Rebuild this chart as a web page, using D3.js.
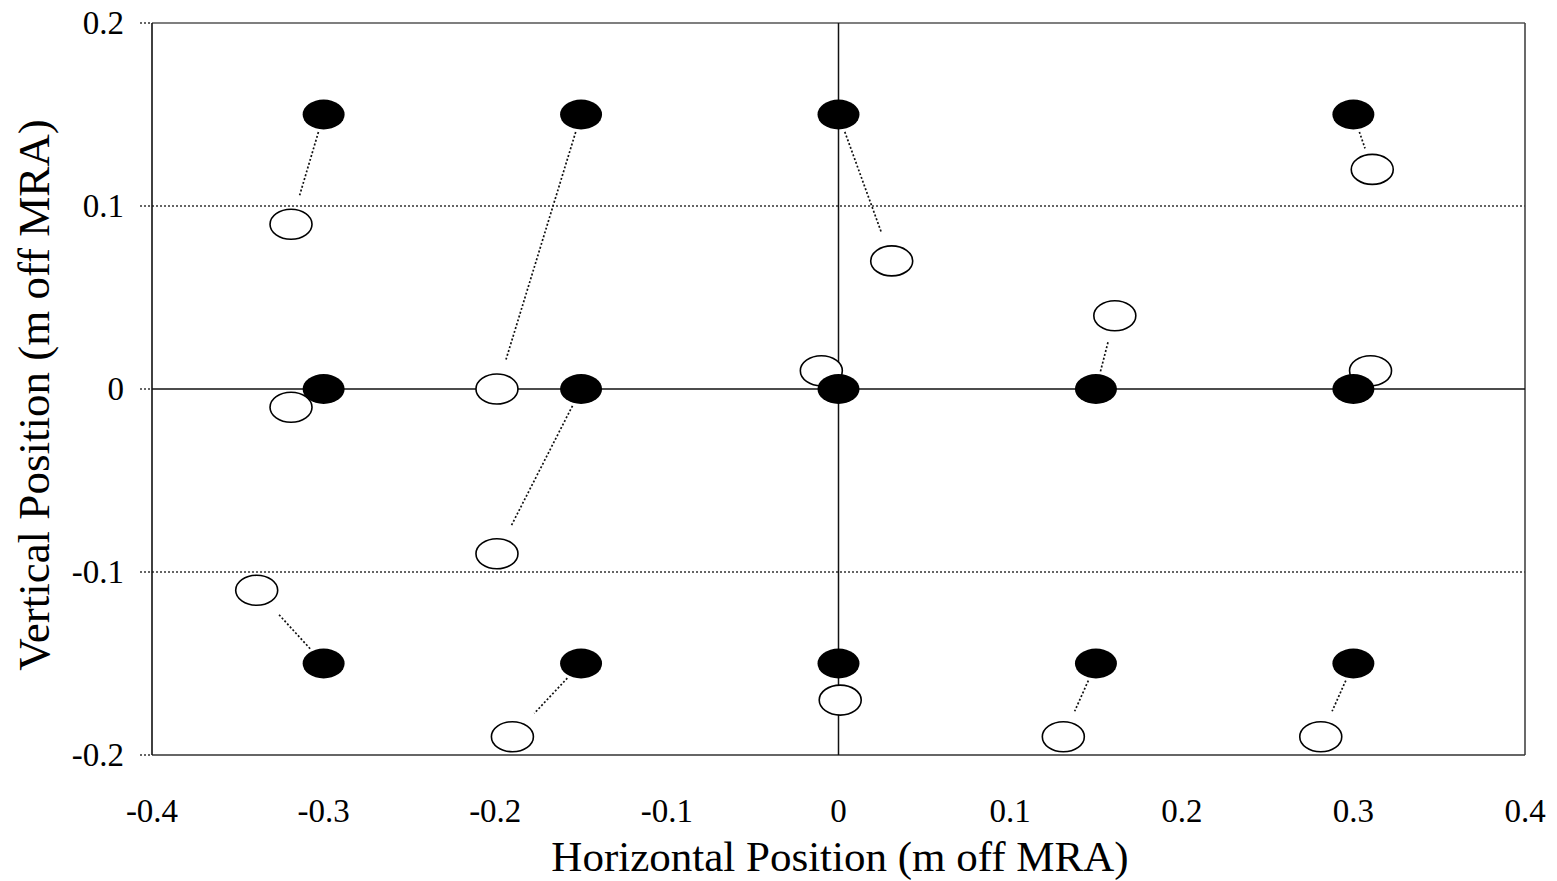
<!DOCTYPE html>
<html><head><meta charset="utf-8">
<script src="https://cdn.jsdelivr.net/npm/d3@7"></script>
<style>
html,body{margin:0;padding:0;background:#fff;}
svg{display:block;}
text{font-family:"Liberation Serif","Times New Roman",serif;fill:#000;}
</style></head>
<body>
<svg id="chart" width="1557" height="881"></svg>
<script>
// Design (target) positions - filled markers
const targetX = [-0.3, -0.15, 0, 0.3, -0.3, -0.15, 0, 0.15, 0.3, -0.3, -0.15, 0, 0.15, 0.3];
const targetY = [0.15, 0.15, 0.15, 0.15, 0, 0, 0, 0, 0, -0.15, -0.15, -0.15, -0.15, -0.15];
// Measured positions - open markers (paired with targets by index)
const measX = [-0.319, -0.199, 0.031, 0.311, -0.319, -0.199, -0.01, 0.161, 0.31, -0.339, -0.19, 0.001, 0.131, 0.281];
const measY = [0.09, 0.0, 0.07, 0.12, -0.01, -0.09, 0.01, 0.04, 0.01, -0.11, -0.19, -0.17, -0.19, -0.19];
const xTicks = [-0.4, -0.3, -0.2, -0.1, 0, 0.1, 0.2, 0.3, 0.4];
const yTicks = [0.2, 0.1, 0, -0.1, -0.2];
const xTitle = "Horizontal Position (m off MRA)";
const yTitle = "Vertical Position (m off MRA)";

const svg = d3.select("#chart");
const L = 152, R = 1525, T = 23, B = 755;
const x = d3.scaleLinear().domain([-0.4, 0.4]).range([L, R]);
const y = d3.scaleLinear().domain([-0.2, 0.2]).range([B, T]);
const RX = 21, RY = 15;
const fmt = d => String(d); // plain hyphen-minus as in the reference

// dotted gridlines at +/-0.1
svg.append("g").selectAll("line").data(yTicks.filter(v => Math.abs(v) > 0.05 && Math.abs(v) < 0.15))
  .join("line")
  .attr("x1", L).attr("x2", R).attr("y1", d => y(d)).attr("y2", d => y(d))
  .attr("stroke", "#333").attr("stroke-width", 1.3).attr("stroke-dasharray", "2,2");

// small dotted tick marks on the left
svg.append("g").selectAll("line").data(yTicks).join("line")
  .attr("x1", L - 12).attr("x2", L).attr("y1", d => y(d)).attr("y2", d => y(d))
  .attr("stroke", "#333").attr("stroke-width", 1.3).attr("stroke-dasharray", "2,2");

// frame
svg.append("line").attr("x1", L).attr("x2", R).attr("y1", T).attr("y2", T).attr("stroke", "#555").attr("stroke-width", 1.6);
svg.append("line").attr("x1", R).attr("x2", R).attr("y1", T).attr("y2", B).attr("stroke", "#444").attr("stroke-width", 1.6);
svg.append("line").attr("x1", L).attr("x2", R).attr("y1", B).attr("y2", B).attr("stroke", "#333").attr("stroke-width", 1.6);
svg.append("line").attr("x1", L).attr("x2", L).attr("y1", T).attr("y2", B).attr("stroke", "#111").attr("stroke-width", 1.6);

// zero lines
svg.append("line").attr("x1", L).attr("x2", R).attr("y1", y(0)).attr("y2", y(0)).attr("stroke", "#111").attr("stroke-width", 1.5);
svg.append("line").attr("x1", x(0)).attr("x2", x(0)).attr("y1", T).attr("y2", B).attr("stroke", "#111").attr("stroke-width", 1.5);

// tick labels
svg.append("g").selectAll("text").data(xTicks).join("text")
  .attr("x", d => x(d)).attr("y", 822).attr("text-anchor", "middle")
  .attr("font-size", 33).text(fmt);
svg.append("g").selectAll("text").data(yTicks).join("text")
  .attr("x", 124).attr("y", d => y(d) + 11).attr("text-anchor", "end")
  .attr("font-size", 33).text(fmt);

// axis titles
svg.append("text").attr("x", 840).attr("y", 871).attr("text-anchor", "middle")
  .attr("font-size", 43).text(xTitle);
svg.append("text").attr("transform", "translate(49,395) rotate(-90)").attr("text-anchor", "middle")
  .attr("font-size", 45).text(yTitle);

// connecting dotted lines (trimmed at ellipse edges)
function edge(ux, uy) {
  return 1 / Math.sqrt((ux / RX) ** 2 + (uy / RY) ** 2);
}
const links = [];
targetX.forEach((tx, i) => {
  const x1 = x(tx), y1 = y(targetY[i]);
  const x2 = x(measX[i]), y2 = y(measY[i]);
  const dx = x2 - x1, dy = y2 - y1, len = Math.hypot(dx, dy);
  const ux = dx / len, uy = dy / len;
  const e = edge(ux, uy);
  const remaining = len - 2 * e;
  if (remaining < 15) return;
  const s = e + 3, en = e + Math.min(15, remaining * 0.25);
  links.push({x1: x1 + ux * s, y1: y1 + uy * s, x2: x2 - ux * en, y2: y2 - uy * en});
});
svg.append("g").selectAll("line").data(links).join("line")
  .attr("x1", d => d.x1).attr("y1", d => d.y1).attr("x2", d => d.x2).attr("y2", d => d.y2)
  .attr("stroke", "#111").attr("stroke-width", 1.7).attr("stroke-dasharray", "2,2");

// open markers (measured)
svg.append("g").selectAll("ellipse").data(measX).join("ellipse")
  .attr("cx", d => x(d)).attr("cy", (d, i) => y(measY[i]))
  .attr("rx", RX).attr("ry", RY)
  .attr("fill", "#fff").attr("stroke", "#000").attr("stroke-width", 1.6);

// filled markers (target)
svg.append("g").selectAll("ellipse").data(targetX).join("ellipse")
  .attr("cx", d => x(d)).attr("cy", (d, i) => y(targetY[i]))
  .attr("rx", RX).attr("ry", RY)
  .attr("fill", "#000");
</script>
</body></html>
